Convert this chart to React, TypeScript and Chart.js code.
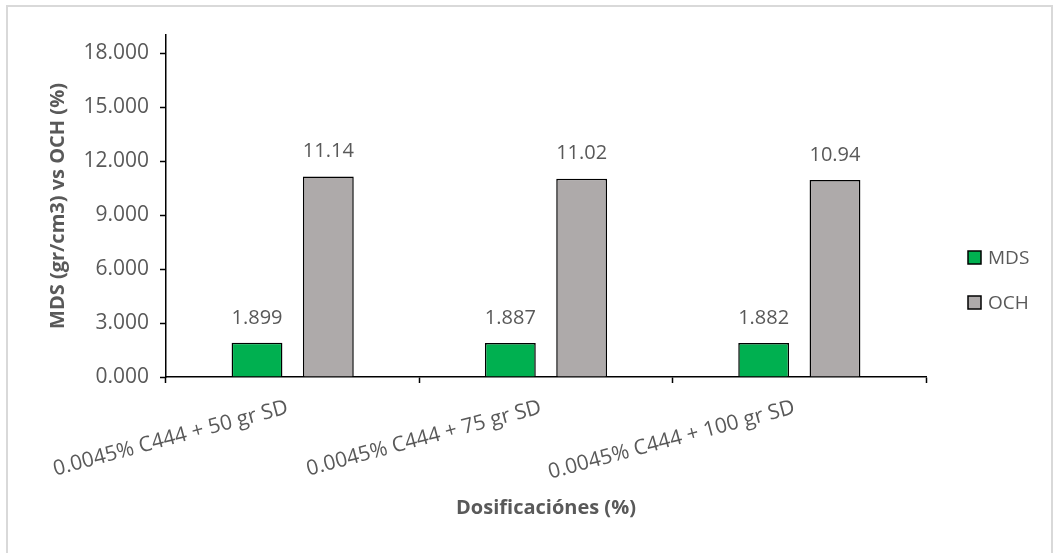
import { useEffect, useRef } from "react";
import { Chart, registerables } from "chart.js";

Chart.register(...registerables);

// Chart data
const categories = [
  "0.0045% C444 + 50 gr SD",
  "0.0045% C444 + 75 gr SD",
  "0.0045% C444 + 100 gr SD",
];
const mdsValues = [1.899, 1.887, 1.882];
const ochValues = [11.14, 11.02, 10.94];
const seriesNames = ["MDS", "OCH"];
const seriesDecimals = [3, 2];
const yTickValues = [0, 3, 6, 9, 12, 15, 18];
const yAxisMax = 19;

const FONT = "'Open Sans', 'Noto Sans', sans-serif";
const TEXT_COLOR = "#595959";
const COLORS = ["#00B050", "#AEAAAA"];

// Value labels above each bar
const valueLabelPlugin = {
  id: "valueLabels",
  afterDatasetsDraw(chart: any) {
    const ctx = chart.ctx;
    ctx.save();
    ctx.font = `20px ${FONT}`;
    ctx.fillStyle = TEXT_COLOR;
    ctx.textAlign = "center";
    ctx.textBaseline = "middle";
    chart.data.datasets.forEach((ds: any, di: number) => {
      const meta = chart.getDatasetMeta(di);
      meta.data.forEach((bar: any, i: number) => {
        const v = ds.data[i] as number;
        ctx.fillText(v.toFixed(seriesDecimals[di]), bar.x, bar.y - 25);
      });
    });
    ctx.restore();
  },
};

// Legend on the right, vertically centred on the canvas
const sideLegendPlugin = {
  id: "sideLegend",
  afterDraw(chart: any) {
    const ctx = chart.ctx;
    const area = chart.chartArea;
    const boxX = area.right + 42;
    const box = 13;
    const gap = 45;
    const midY = chart.height / 2;
    const startY = midY - gap / 2;
    ctx.save();
    ctx.font = `19px ${FONT}`;
    ctx.textBaseline = "middle";
    ctx.textAlign = "left";
    chart.data.datasets.forEach((ds: any, i: number) => {
      const cy = startY + i * gap;
      ctx.fillStyle = ds.backgroundColor;
      ctx.fillRect(boxX, cy - box / 2, box, box);
      ctx.lineWidth = 1.5;
      ctx.strokeStyle = "#000000";
      ctx.strokeRect(boxX, cy - box / 2, box, box);
      ctx.fillStyle = TEXT_COLOR;
      ctx.fillText(ds.label, boxX + 20, cy + 1);
    });
    ctx.restore();
  },
};

export default function App() {
  const canvasRef = useRef<HTMLCanvasElement | null>(null);

  useEffect(() => {
    if (!canvasRef.current) return;
    const chart = new Chart(canvasRef.current, {
      type: "bar",
      data: {
        labels: categories,
        datasets: [
          {
            label: seriesNames[0],
            data: mdsValues,
            backgroundColor: COLORS[0],
            borderColor: "#000000",
            borderWidth: 1.5,
            categoryPercentage: 0.563,
            barPercentage: 0.713,
          },
          {
            label: seriesNames[1],
            data: ochValues,
            backgroundColor: COLORS[1],
            borderColor: "#000000",
            borderWidth: 1.5,
            categoryPercentage: 0.563,
            barPercentage: 0.713,
          },
        ],
      },
      options: {
        animation: false,
        responsive: true,
        maintainAspectRatio: false,
        layout: { padding: { top: 28, right: 125, bottom: 0, left: 0 } },
        plugins: {
          legend: { display: false },
          tooltip: { enabled: false },
        },
        scales: {
          x: {
            grid: {
              drawOnChartArea: false,
              tickLength: 6,
              tickColor: "#000000",
              tickWidth: 1.5,
              offset: true,
            },
            border: { color: "#000000", width: 1.5 },
            ticks: {
              color: TEXT_COLOR,
              font: { family: FONT, size: 21 },
              minRotation: 15,
              maxRotation: 15,
              padding: 12,
              labelOffset: -5,
              autoSkip: false,
            },
            title: {
              display: true,
              text: "Dosificaciónes (%)",
              color: TEXT_COLOR,
              font: { family: FONT, size: 20, weight: "bold" },
              padding: { top: 0, bottom: 33 },
            },
            afterFit: (scale: any) => {
              scale.height = 176;
            },
          },
          y: {
            min: 0,
            max: yAxisMax,
            afterBuildTicks: (scale: any) => {
              scale.ticks = yTickValues.map((v) => ({ value: v }));
            },
            grid: {
              drawOnChartArea: false,
              tickLength: 6,
              tickColor: "#000000",
              tickWidth: 1.5,
            },
            border: { color: "#000000", width: 1.5 },
            ticks: {
              color: TEXT_COLOR,
              font: { family: FONT, size: 21 },
              padding: 11,
              callback: (v: any) => Number(v).toFixed(3),
            },
            title: {
              display: true,
              text: "MDS (gr/cm3) vs OCH (%)",
              color: TEXT_COLOR,
              font: { family: FONT, size: 20, weight: "bold" },
              padding: { top: 38, bottom: 0 },
            },
            afterFit: (scale: any) => {
              scale.width = 158;
            },
          },
        },
      },
      plugins: [valueLabelPlugin, sideLegendPlugin],
    });
    return () => chart.destroy();
  }, []);

  return (
    <div
      style={{
        position: "absolute",
        left: 6,
        top: 5,
        width: 1047,
        height: 548,
        boxSizing: "border-box",
        borderTop: "2px solid #D9D9D9",
        borderLeft: "2px solid #D9D9D9",
        borderRight: "2px solid #D9D9D9",
        background: "#FFFFFF",
      }}
    >
      <canvas ref={canvasRef} />
    </div>
  );
}
